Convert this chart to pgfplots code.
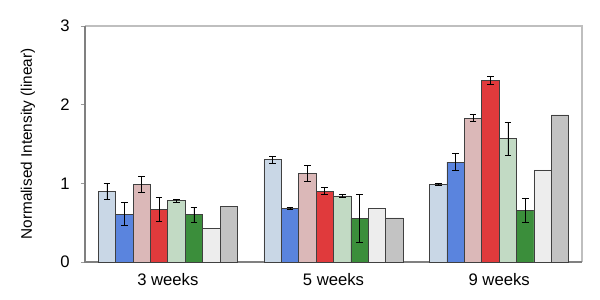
\documentclass[border=0pt]{standalone}
\usepackage{pgfplots}
\pgfplotsset{compat=1.18}
\usepackage{fontspec}
\setmainfont{Liberation Sans}
\definecolor{c1}{HTML}{C9D7E6}
\definecolor{c2}{HTML}{5A84DE}
\definecolor{c3}{HTML}{DBB8B8}
\definecolor{c4}{HTML}{E03A3C}
\definecolor{c5}{HTML}{C2DAC4}
\definecolor{c6}{HTML}{3B8E3B}
\definecolor{c7}{HTML}{EDEDED}
\definecolor{c8}{HTML}{C3C3C3}
\begin{document}
\begin{tikzpicture}[x=1pt,y=1pt]
\path[use as bounding box] (-63.75,-28.5) rectangle (386.25,196.5);
\begin{axis}[
  scale only axis, width=372.75pt, height=177pt,
  at={(0,0)}, anchor=south west,
  ybar=0pt, bar width=0.105,
  xmin=-0.5, xmax=2.5, ymin=0, ymax=3,
  xtick={0,1,2}, xticklabels={3 weeks,5 weeks,9 weeks},
  ytick={0,1,2,3}, ytick pos=left,
  major x tick style={draw=none},
  ytick style={draw=gray!80, thin},
  tick align=outside, major tick length=3pt,
  axis line style={draw=none},
  tick label style={font=\fontsize{12.5}{14}\selectfont},
  /pgf/number format/assume math mode=true,
  ylabel={Normalised Intensity (linear)},
  ylabel style={font=\fontsize{11.5}{13}\selectfont, at={(axis description cs:-0.115,0.5)}, anchor=center},
  yticklabel style={xshift=-5pt},
  xticklabel style={yshift=-2pt},
  every axis plot/.append style={draw=black!75, line width=0.5pt},
  error bars/y dir=both, error bars/y explicit,
  error bars/error bar style={black, line width=0.5pt},
  error bars/error mark options={rotate=90, mark size=2.5pt, black, line width=0.5pt},
  clip=false,
]
\draw[gray!50, line width=0.8pt] (axis cs:-0.5,3) -- (axis cs:2.5,3) -- (axis cs:2.5,0);
\draw[gray, line width=0.8pt] (axis cs:-0.5,3) -- (axis cs:-0.5,0) -- (axis cs:2.5,0);
\addplot[fill=c1] coordinates {(0,0.90) +- (0,0.10) (1,1.30) +- (0,0.045) (2,0.99) +- (0,0.01)};
\addplot[fill=c2] coordinates {(0,0.61) +- (0,0.15) (1,0.68) +- (0,0.015) (2,1.27) +- (0,0.105)};
\addplot[fill=c3] coordinates {(0,0.99) +- (0,0.10) (1,1.13) +- (0,0.10) (2,1.83) +- (0,0.045)};
\addplot[fill=c4] coordinates {(0,0.67) +- (0,0.15) (1,0.90) +- (0,0.045) (2,2.31) +- (0,0.05)};
\addplot[fill=c5] coordinates {(0,0.78) +- (0,0.02) (1,0.84) +- (0,0.015) (2,1.57) +- (0,0.21)};
\addplot[fill=c6] coordinates {(0,0.60) +- (0,0.095) (1,0.555) +- (0,0.305) (2,0.66) +- (0,0.155)};
\addplot[fill=c7] coordinates {(0,0.43) (1,0.68) (2,1.17)};
\addplot[fill=c8] coordinates {(0,0.71) (1,0.56) (2,1.87)};
\end{axis}
\end{tikzpicture}
\end{document}
